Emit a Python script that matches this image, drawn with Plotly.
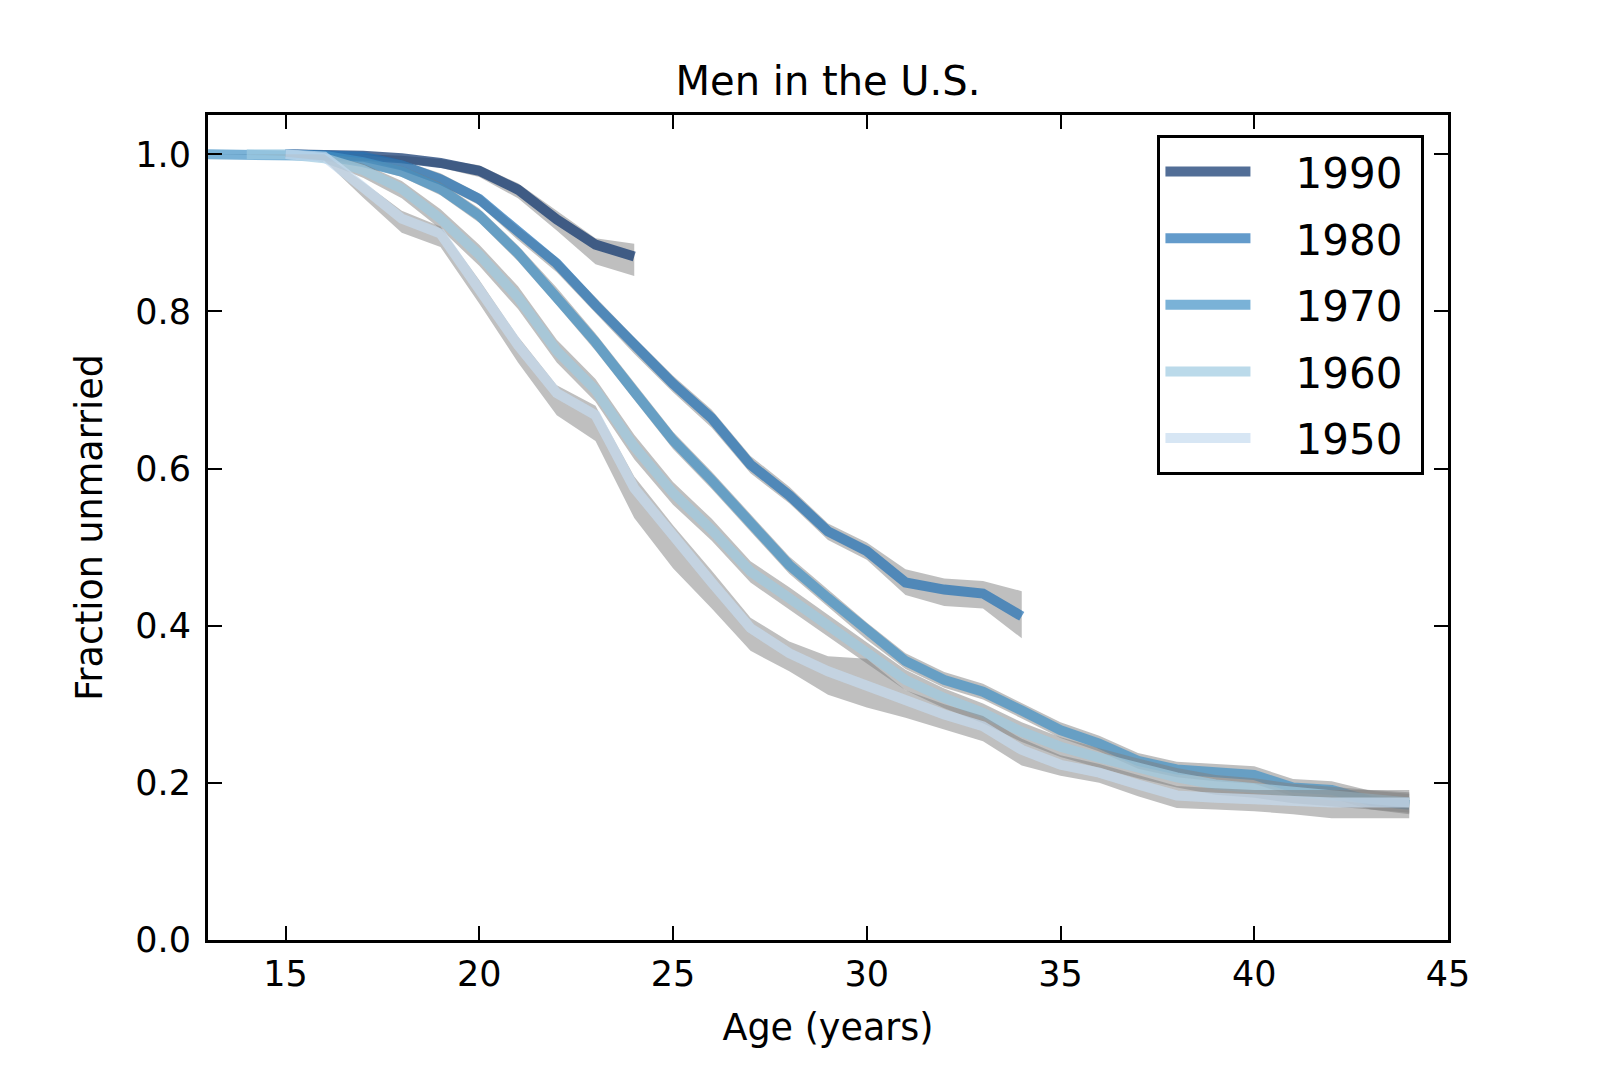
import plotly.graph_objects as go

# ---------------- data ----------------
years = ["1990", "1980", "1970", "1960", "1950"]

ages_1990 = list(range(15, 25))
surv_1990 = [1.000, 1.000, 0.998, 0.995, 0.989, 0.979, 0.955, 0.917, 0.885, 0.870]
low_1990 = [0.999, 0.998, 0.995, 0.990, 0.983, 0.971, 0.944, 0.903, 0.860, 0.845]
high_1990 = [1.000, 1.000, 1.000, 0.998, 0.994, 0.986, 0.963, 0.928, 0.893, 0.886]

ages_1980 = list(range(15, 35))
surv_1980 = [1.000, 1.000, 0.997, 0.986, 0.968, 0.943, 0.901, 0.861, 0.808, 0.757,
             0.708, 0.664, 0.605, 0.566, 0.520, 0.495, 0.455, 0.446, 0.441, 0.412]
low_1980 = [0.999, 0.998, 0.994, 0.980, 0.961, 0.935, 0.891, 0.850, 0.798, 0.746,
            0.697, 0.652, 0.594, 0.556, 0.509, 0.484, 0.439, 0.425, 0.422, 0.384]
high_1980 = [1.000, 1.000, 1.000, 0.992, 0.976, 0.950, 0.908, 0.869, 0.818, 0.767,
             0.718, 0.675, 0.616, 0.577, 0.530, 0.506, 0.472, 0.460, 0.457, 0.444]

ages_1970 = list(range(13, 45))
surv_1970 = [1.000, 1.000, 1.000, 0.998, 0.990, 0.978, 0.956, 0.922, 0.874, 0.819,
             0.761, 0.698, 0.636, 0.585, 0.531, 0.477, 0.435, 0.393, 0.355, 0.331,
             0.316, 0.292, 0.267, 0.250, 0.228, 0.217, 0.213, 0.210, 0.194, 0.191,
             0.177, 0.172]
low_1970 = [1.000, 0.999, 0.998, 0.994, 0.985, 0.971, 0.948, 0.913, 0.864, 0.808,
            0.750, 0.687, 0.625, 0.574, 0.520, 0.466, 0.424, 0.382, 0.345, 0.321,
            0.306, 0.282, 0.257, 0.240, 0.218, 0.207, 0.202, 0.199, 0.183, 0.180,
            0.166, 0.160]
high_1970 = [1.000, 1.000, 1.000, 1.000, 0.995, 0.985, 0.964, 0.931, 0.884, 0.830,
             0.772, 0.709, 0.647, 0.596, 0.542, 0.488, 0.446, 0.404, 0.365, 0.341,
             0.326, 0.302, 0.277, 0.260, 0.238, 0.227, 0.224, 0.221, 0.205, 0.202,
             0.190, 0.186]

ages_1960 = list(range(14, 45))
surv_1960 = [1.000, 1.000, 0.995, 0.980, 0.956, 0.918, 0.872, 0.818, 0.750, 0.700,
             0.628, 0.569, 0.522, 0.469, 0.435, 0.401, 0.367, 0.331, 0.308, 0.289,
             0.265, 0.246, 0.232, 0.219, 0.207, 0.198, 0.194, 0.187, 0.183, 0.179,
             0.175]
low_1960 = [1.000, 0.998, 0.990, 0.970, 0.944, 0.905, 0.858, 0.803, 0.735, 0.685,
            0.612, 0.554, 0.508, 0.455, 0.420, 0.386, 0.352, 0.318, 0.295, 0.276,
            0.252, 0.233, 0.219, 0.206, 0.194, 0.185, 0.181, 0.174, 0.170, 0.166,
            0.162]
high_1960 = [1.000, 1.000, 0.999, 0.988, 0.966, 0.930, 0.885, 0.832, 0.764, 0.714,
             0.643, 0.583, 0.536, 0.482, 0.449, 0.414, 0.380, 0.344, 0.320, 0.301,
             0.277, 0.258, 0.244, 0.231, 0.219, 0.210, 0.206, 0.199, 0.195, 0.191,
             0.188]

ages_1950 = list(range(15, 45))
surv_1950 = [1.000, 0.997, 0.958, 0.918, 0.899, 0.829, 0.757, 0.696, 0.668, 0.575,
             0.513, 0.455, 0.397, 0.365, 0.342, 0.323, 0.304, 0.287, 0.272, 0.242,
             0.223, 0.213, 0.198, 0.184, 0.181, 0.179, 0.175, 0.175, 0.175, 0.175]
low_1950 = [0.997, 0.992, 0.945, 0.900, 0.882, 0.810, 0.735, 0.668, 0.635, 0.537,
            0.473, 0.422, 0.368, 0.342, 0.312, 0.296, 0.283, 0.268, 0.253, 0.222,
            0.209, 0.200, 0.183, 0.168, 0.166, 0.164, 0.160, 0.155, 0.155, 0.155]
high_1950 = [1.000, 1.000, 0.965, 0.928, 0.908, 0.840, 0.768, 0.706, 0.680, 0.590,
             0.528, 0.470, 0.410, 0.380, 0.361, 0.358, 0.318, 0.300, 0.285, 0.256,
             0.235, 0.224, 0.210, 0.196, 0.193, 0.191, 0.191, 0.191, 0.191, 0.191]

x_ticks = [15, 20, 25, 30, 35, 40, 45]
y_ticks = [0.0, 0.2, 0.4, 0.6, 0.8, 1.0]

# Brewer "Blues" shades, drawn with alpha 0.7
line_colors = ["rgba(8,48,107,0.7)", "rgba(33,113,181,0.7)", "rgba(66,146,198,0.7)",
               "rgba(158,202,225,0.7)", "rgba(198,219,239,0.7)"]
band_color = "rgba(128,128,128,0.5)"

series = [
    (ages_1990, surv_1990, low_1990, high_1990),
    (ages_1980, surv_1980, low_1980, high_1980),
    (ages_1970, surv_1970, low_1970, high_1970),
    (ages_1960, surv_1960, low_1960, high_1960),
    (ages_1950, surv_1950, low_1950, high_1950),
]

FONT = "DejaVu Sans"
NBSP = "\u00a0"
fig = go.Figure()

for name, color, (ages, surv, low, high) in zip(years, line_colors, series):
    # confidence band (gray, filled between low and high)
    fig.add_trace(go.Scatter(
        x=ages + ages[::-1], y=high + low[::-1],
        fill="toself", fillcolor=band_color, mode="lines",
        line=dict(width=0, color="rgba(0,0,0,0)"),
        hoverinfo="skip", showlegend=False, legendgroup=name,
    ))
    fig.add_trace(go.Scatter(
        x=ages, y=surv, mode="lines", name=NBSP * 3 + name + NBSP,
        legendgroup=name,
        line=dict(color=color, width=10),
    ))

axis_common = dict(
    showline=True, linecolor="black", linewidth=3, mirror="ticks",
    ticks="inside", ticklen=14, tickwidth=2, tickcolor="black",
    showgrid=False, zeroline=False,
    tickfont=dict(family=FONT, size=35, color="black"),
)

fig.update_layout(
    width=1600, height=1067,
    margin=dict(l=200, r=160, t=107, b=135),
    paper_bgcolor="white", plot_bgcolor="white",
    font=dict(family=FONT, color="black"),
    title=dict(text="Men in the U.S.", x=0.5, xref="paper", y=1 - 73 / 1067,
               yref="container", yanchor="middle", xanchor="center",
               font=dict(family=FONT, size=40, color="black")),
    xaxis=dict(range=[13, 45], tickvals=x_ticks,
               title=dict(text="Age (years)", font=dict(family=FONT, size=36.5),
                          standoff=22),
               ticklabelstandoff=1, **axis_common),
    yaxis=dict(range=[0, 1.05], tickvals=y_ticks, tickformat=".1f",
               title=dict(text="Fraction unmarried", font=dict(family=FONT, size=36.5),
                          standoff=22),
               ticklabelstandoff=7, **axis_common),
    legend=dict(x=0.981, y=0.976, xanchor="right", yanchor="top",
                bgcolor="white", bordercolor="black", borderwidth=3,
                font=dict(family=FONT, size=42, color="black"),
                tracegroupgap=9, itemwidth=85),
    showlegend=True,
)

fig.write_html("out.html")
